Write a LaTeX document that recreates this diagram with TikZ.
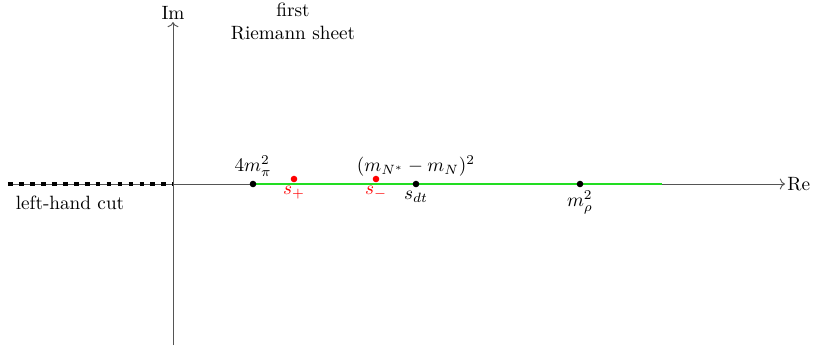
\documentclass[tikz,border=0pt]{standalone}
\usepackage{amsmath,amssymb}
\usetikzlibrary{arrows.meta,positioning,calc}
\definecolor{cutgreen}{HTML}{22DD22}
\definecolor{axisgray}{HTML}{555555}

\begin{document}
\begin{tikzpicture}[
  x=0.52pt,y=0.52pt,
  axis/.style={draw=axisgray,line width=0.5pt,->},
  cut/.style={line width=2.1pt,dash pattern=on 2.5pt off 3.2pt},
  thres/.style={circle,fill=black,inner sep=0pt,minimum size=3.4pt},
  pole/.style={circle,fill=red,inner sep=0pt,minimum size=3.4pt},
  lbl/.style={inner sep=1pt}]
\useasboundingbox (-173,-168) rectangle (644,184);
% axes
\coordinate (o) at (0,0);
\coordinate (xl) at (-165,0);
\coordinate (xr) at (612,0);
\coordinate (yb) at (0,-161);
\coordinate (yt) at (0,162);
\draw[axis] (xl) -- (xr) node[right,lbl] (re) {Re};
\draw[axis] (yb) -- (yt) node[above,lbl] (im) {Im};
% cuts
\draw[cut] (xl) -- (o);
\coordinate (pi) at (80,0);
\coordinate (gend) at (489,0);
\draw[cutgreen,line width=0.9pt] (pi) -- (gend);
% points
\node[thres] (p4m) at (pi) {};
\node[thres] (pdt) at (243,0) {};
\node[thres] (prho) at (407,0) {};
\node[pole] (sp) at (121,5) {};
\node[pole] (sm) at (203,5) {};
% labels
\node[lbl,above=1pt of p4m] (l4m) {$4m_\pi^2$};
\node[lbl,above=1pt of pdt] (lnn) {$(m_{N^*}-m_N)^2$};
\node[lbl,below=0.5pt of pdt] (ldt) {$s_{dt}$};
\node[lbl,below=0.5pt of prho] (lrho) {$m_\rho^2$};
\node[lbl,red,below=0.5pt of sp] (lsp) {$s_+$};
\node[lbl,red,below=0.5pt of sm] (lsm) {$s_-$};
\node[lbl] (lhc) at (-103,-19) {left-hand cut};
\node[align=center] (sheet) at (120,163) {first\\Riemann sheet};
\end{tikzpicture}
\end{document}
